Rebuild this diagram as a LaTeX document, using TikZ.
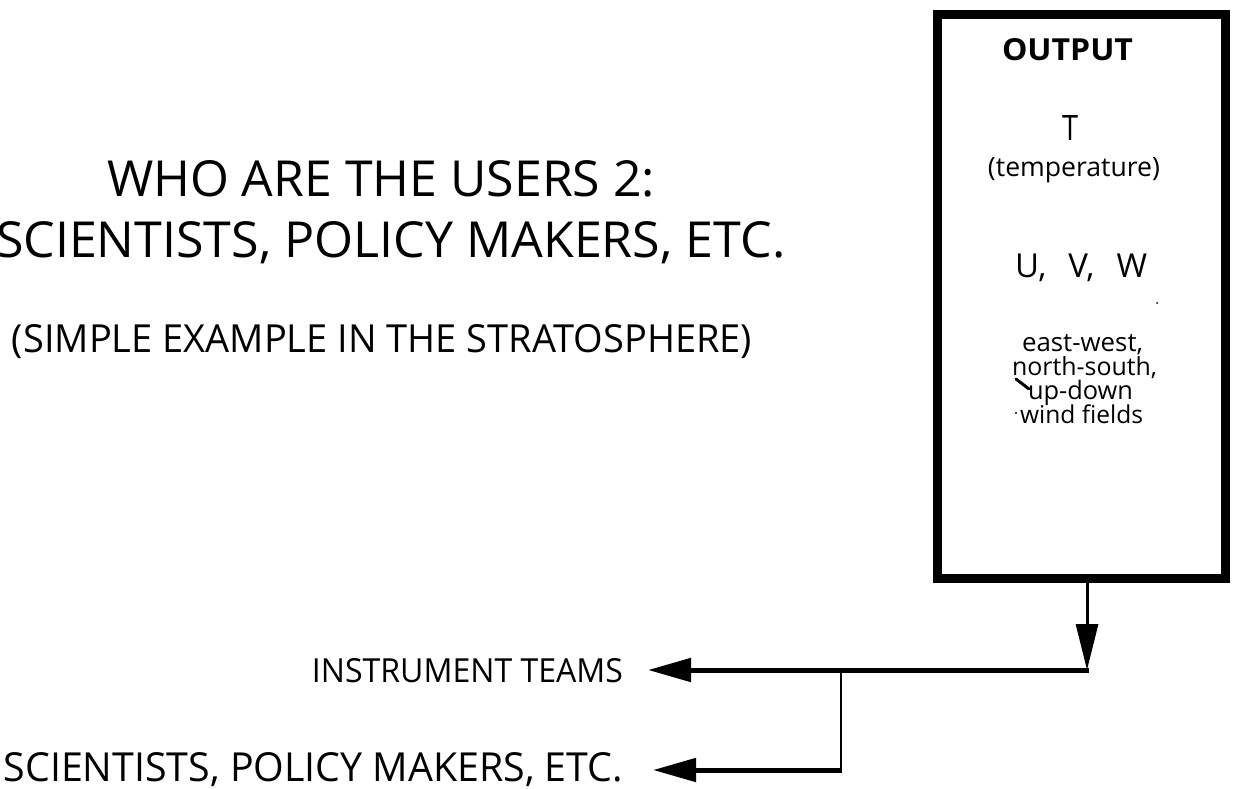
\documentclass[tikz,border=0pt]{standalone}
\usepackage{fontspec}
\setmainfont{Open Sans}
\usetikzlibrary{arrows.meta,calc}
\newlength\bw \newlength\bh \newlength\sh
\begin{document}
\settowidth\bw{SCIENTISTS, POLICY MAKERS, ETC.}%
\settoheight\bh{SCIENTISTS, POLICY MAKERS, ETC.}%
\settoheight\sh{SIMPLE EXAMPLE}%
\pgfmathsetmacro\sy{28/\sh}%
\pgfmathsetmacro\sx{\sy*(619/\bw)/(29/\bh)}%
\begin{tikzpicture}[x=1pt,y=-1pt,
  txt/.style={inner sep=0pt, outer sep=0pt},
  vtip/.style={-{Triangle[length=46pt,width=22pt]}},
  htip/.style={-{Triangle[length=43pt,width=23pt]}}]
\useasboundingbox (0,0) rectangle (1233,788);
\fill[white] (0,0) rectangle (1233,788);
% title
\node[txt, anchor=base west] (t1) at (107,196) {\resizebox{548pt}{36pt}{WHO ARE THE USERS 2:}};
\node[txt, anchor=base west] (t2) at (-4,257) {\resizebox{789pt}{36pt}{SCIENTISTS, POLICY MAKERS, ETC.}};
\node[txt, anchor=base west] (t3) at (12,352) {\scalebox{\sx}[\sy]{(SIMPLE EXAMPLE IN THE STRATOSPHERE)}};
% output box
\node[draw, line width=9pt, minimum width=288pt, minimum height=564pt, inner sep=0pt, outer sep=0pt, anchor=north west] (out) at (937.5,14.5) {};
\node[txt, anchor=base west] (o1) at (1002,60) {\resizebox{131pt}{22pt}{\bfseries OUTPUT}};
\node[txt, anchor=base west] (o2) at (1062,140) {\resizebox{16pt}{25pt}{T}};
\node[txt, anchor=center] (o3) at (1074,170) {\resizebox{172pt}{!}{(temperature)}};
\node[txt, anchor=base west] (o4) at (1015,277) {\fontsize{33}{35}\selectfont U,\hspace{22pt}V,\hspace{22pt}W};
\node[txt, anchor=base west] (o5) at (1022,351) {\resizebox{121pt}{!}{east-west,}};
\node[txt, anchor=base west] (o6) at (1012,375) {\resizebox{145pt}{!}{north-south,}};
\node[txt, anchor=base west] (o7) at (1028,399) {\resizebox{105pt}{!}{up-down}};
\node[txt, anchor=base west] (o8) at (1020,423) {\resizebox{123pt}{!}{wind fields}};
% specks on the scan
\draw[line width=3pt, line cap=round] (1016,379) -- (1029,389);
\fill (1157,303) circle (1pt);
\fill (1016,413) circle (1.2pt);
% users
\node[txt, anchor=base east] (it) at (623,682) {\resizebox{311pt}{24pt}{INSTRUMENT TEAMS}};
\node[txt, anchor=base east] (sp) at (623,781) {\resizebox{619pt}{29pt}{SCIENTISTS, POLICY MAKERS, ETC.}};
% connectors
\coordinate (j) at (1089,670);
\coordinate (k) at (841,670);
\coordinate (k2) at (841,770);
\draw[line width=3pt, vtip] ($(out.south)+(5.5,0)$) -- ($(j)+(-2,0)$);
\draw[line width=5pt, htip] (j) -- ($(it.east |- j)+(25,0)$);
\draw[line width=2.5pt] (k) -- (k2);
\draw[line width=5pt, htip] ($(k2)+(1.25,0)$) -- ($(sp.east |- k2)+(30,0)$);
\end{tikzpicture}
\end{document}
